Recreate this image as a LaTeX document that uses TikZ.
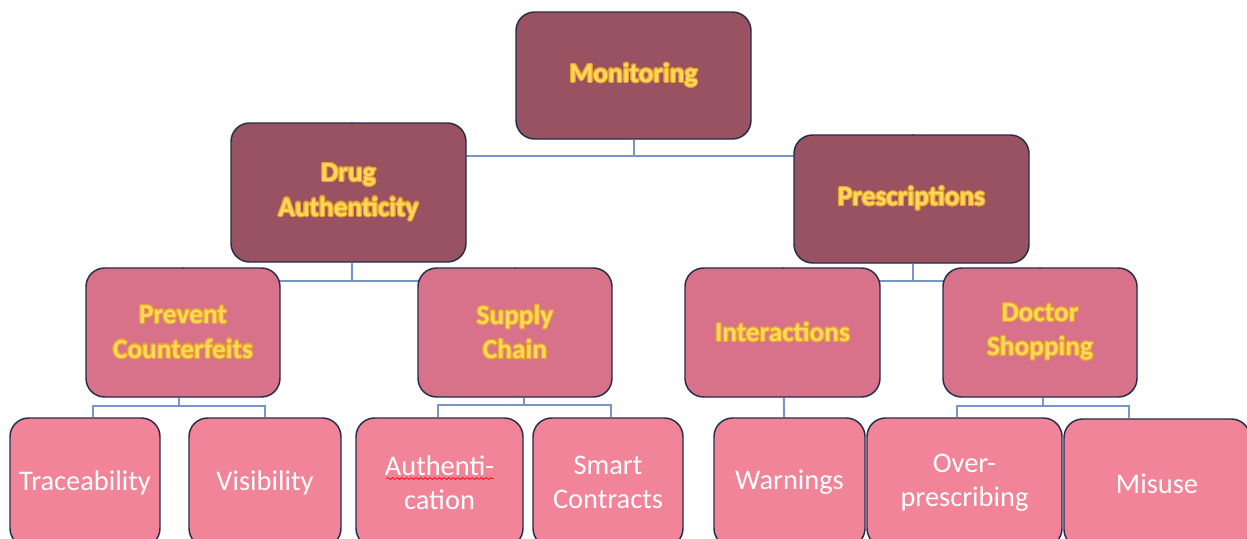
\documentclass[tikz,border=0pt]{standalone}
\usepackage{fontspec}
\setmainfont{Carlito}
\usepackage{contour}
\contourlength{0.8pt}
\usetikzlibrary{backgrounds,decorations.pathmorphing}
\definecolor{lvlA}{RGB}{152,82,98}
\definecolor{lvlB}{RGB}{215,114,138}
\definecolor{lvlC}{RGB}{241,132,153}
\definecolor{edgeC}{RGB}{38,44,74}
\definecolor{connC}{RGB}{120,149,201}
\definecolor{goldT}{RGB}{255,218,90}
\definecolor{glowT}{RGB}{236,160,50}
\newcommand{\gl}[1]{\contour{glowT}{#1}}
\begin{document}
\begin{tikzpicture}[x=0.75pt,y=-0.75pt,
  boxbase/.style={draw=edgeC, line width=1.1pt, rounded corners=14pt, inner sep=0pt, align=center},
  topbox/.style={boxbase, fill=lvlA, text=goldT, font=\bfseries\fontsize{20.5}{26}\selectfont},
  midbox/.style={boxbase, fill=lvlB, text=goldT, font=\bfseries\fontsize{20.5}{26}\selectfont},
  leafbox/.style={boxbase, fill=lvlC, text=white, font=\fontsize{21.3}{25.5}\selectfont, minimum height=96.75pt},
  conn/.style={draw=connC, line width=1.5pt}]
\useasboundingbox (0,0) rectangle (1247,539);
\clip (0,0) rectangle (1247,539);
% level 1
\node[topbox, minimum width=176.25pt, minimum height=95.25pt] (mon) at (633.5,75.5) {\gl{Monitoring}};
% level 2
\node[topbox, minimum width=176.25pt, minimum height=104.25pt] (da) at (348.5,192.5) {\gl{Drug}\\\gl{Authenticity}};
\node[topbox, minimum width=176.25pt, minimum height=96pt] (pr) at (911.5,199) {\gl{Prescriptions}};
% level 3
\node[midbox, minimum width=145.5pt, minimum height=96.75pt] (pc) at (183,332.5) {\gl{Prevent}\\\gl{Counterfeits}};
\node[midbox, minimum width=145.5pt, minimum height=96.75pt] (sc) at (515,332.5) {\gl{Supply}\\\gl{Chain}};
\node[midbox, minimum width=146.25pt, minimum height=96.75pt] (in) at (782.5,332.5) {\gl{Interactions}};
\node[midbox, minimum width=145.5pt, minimum height=96.75pt] (ds) at (1040,332.5) {\gl{Doctor}\\\gl{Shopping}};
% level 4
\node[leafbox, minimum width=112.5pt] (tr) at (85,482.5) {Traceability};
\node[leafbox, minimum width=114pt] (vi) at (265,482.5) {Visibility};
\node[leafbox, minimum width=125.25pt] (au) at (439.5,482.5) {Authenti-\\cation};
\node[leafbox, minimum width=112.5pt] (sm) at (608,482.5) {Smart\\Contracts};
\node[leafbox, minimum width=113.25pt] (wa) at (789.5,482.5) {Warnings};
\node[leafbox, minimum width=146.25pt] (op) at (964.5,482.5) {Over-\\prescribing};
\node[leafbox, minimum width=139.5pt] (mi) at (1157,483.5) {Misuse};
% spell-check underline
\draw[red, line width=0.5pt, decorate, decoration={snake, amplitude=0.7pt, segment length=3.5pt}]
  ([shift={(-53,-4)}]au.center) -- ([shift={(54,-4)}]au.center);
% connectors
\begin{pgfonlayer}{background}
\fill[white] (0,0) rectangle (1247,539);
\draw[conn] (mon.south) -- ++(0,16) -| ([xshift=2.6pt]da.north);
\draw[conn] (mon.south) -- ++(0,16) -| ([xshift=1.1pt]pr.north);
\draw[conn] ([xshift=2.6pt]da.south) -- ++(0,18) -| (pc.north);
\draw[conn] ([xshift=2.6pt]da.south) -- ++(0,18) -| (sc.north);
\draw[conn] ([xshift=1.1pt]pr.south) -- ++(0,17) -| (in.north);
\draw[conn] ([xshift=1.1pt]pr.south) -- ++(0,17) -| (ds.north);
\draw[conn] ([xshift=-3pt]pc.south) -- ++(0,8) -| ([xshift=6pt]tr.north);
\draw[conn] ([xshift=-3pt]pc.south) -- ++(0,8) -| (vi.north);
\draw[conn] ([xshift=6.75pt]sc.south) -- ++(0,7) -| ([xshift=-1.1pt]au.north);
\draw[conn] ([xshift=6.75pt]sc.south) -- ++(0,7) -| ([xshift=2.25pt]sm.north);
\draw[conn] ([xshift=1.1pt]in.south) -- ([xshift=-4.1pt]wa.north);
\draw[conn] ([xshift=2.25pt]ds.south) -- ++(0,8) -| ([xshift=-5.6pt]op.north);
\draw[conn] ([xshift=2.25pt]ds.south) -- ++(0,8) -| ([xshift=-21pt]mi.north);
\end{pgfonlayer}
\end{tikzpicture}
\end{document}
